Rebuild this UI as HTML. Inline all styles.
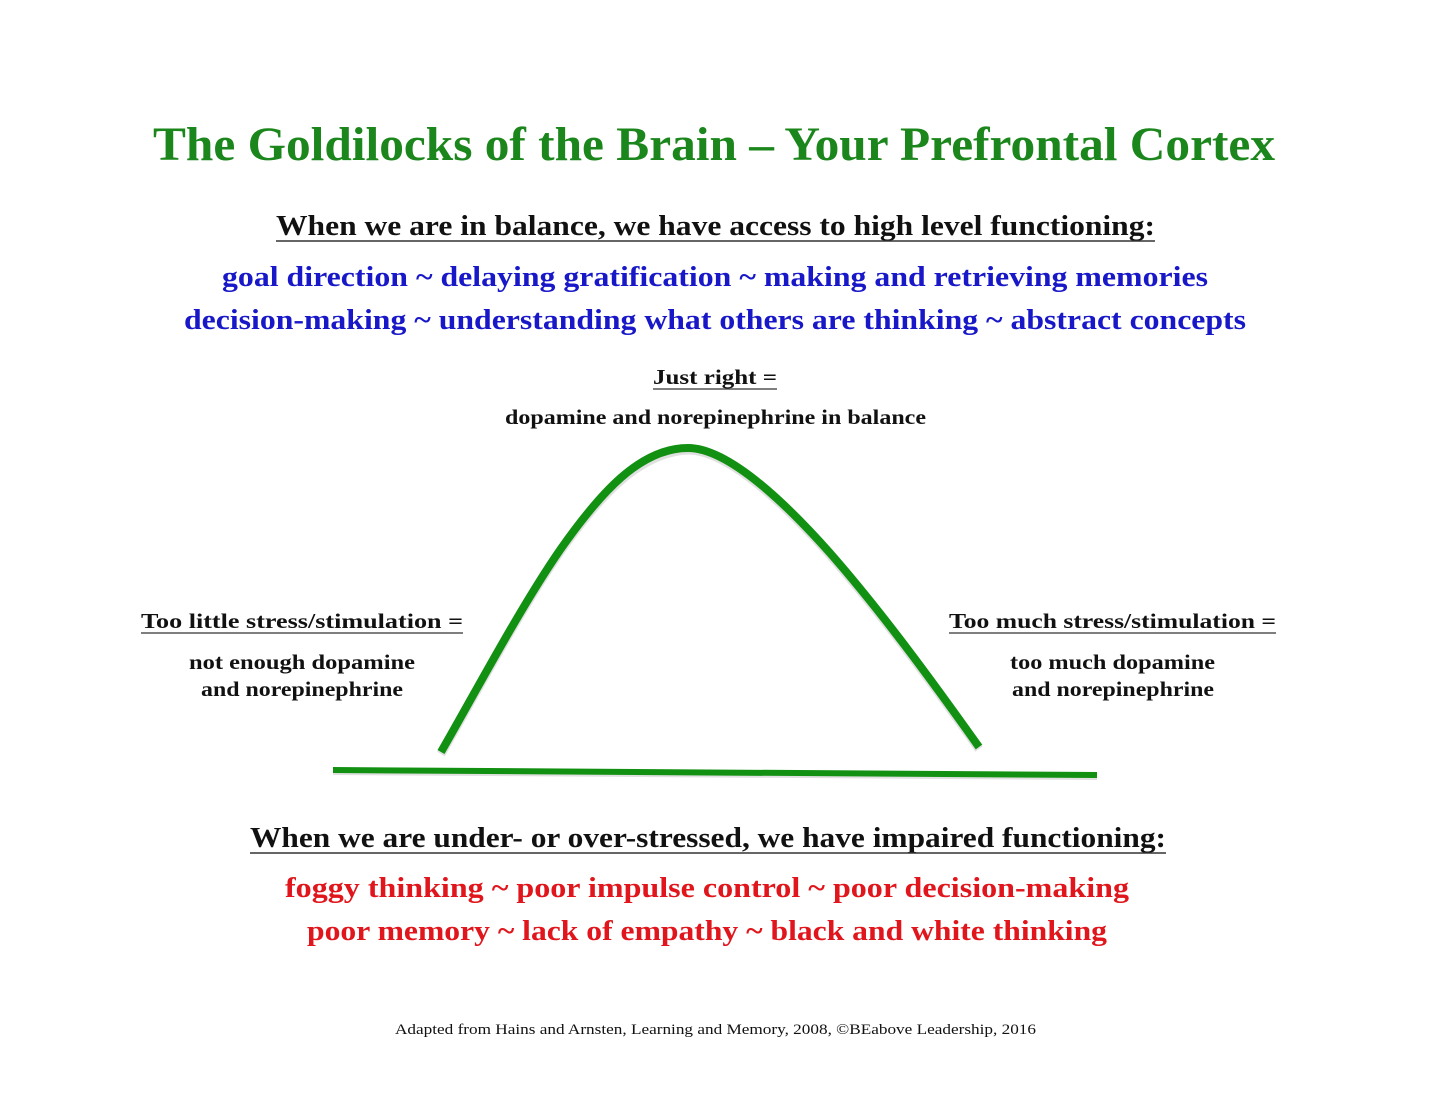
<!DOCTYPE html>
<html>
<head>
<meta charset="utf-8">
<style>
  html,body{margin:0;padding:0;background:#fff;}
  body{width:1432px;height:1106px;overflow:hidden;}
  svg{display:block;}
  text{font-family:"Liberation Serif",serif;font-weight:bold;}
</style>
</head>
<body>
<svg width="1432" height="1106" viewBox="0 0 1432 1106" xmlns="http://www.w3.org/2000/svg">
  <rect width="1432" height="1106" fill="#fff"/>

  <!-- Title -->
  <text x="153" y="160" font-size="48" fill="#1b861b" textLength="1122" lengthAdjust="spacingAndGlyphs">The Goldilocks of the Brain – Your Prefrontal Cortex</text>

  <!-- Top heading -->
  <text x="276" y="235" font-size="28" fill="#111" textLength="879" lengthAdjust="spacingAndGlyphs">When we are in balance, we have access to high level functioning:</text>
  <line x1="276" y1="241" x2="1155" y2="241" stroke="#333" stroke-width="1.6"/>

  <text x="222" y="286" font-size="29" fill="#1818c8" textLength="986" lengthAdjust="spacingAndGlyphs">goal direction ~ delaying gratification ~ making and retrieving memories</text>
  <text x="184" y="329" font-size="29" fill="#1818c8" textLength="1062" lengthAdjust="spacingAndGlyphs">decision-making ~ understanding what others are thinking ~ abstract concepts</text>

  <!-- Just right -->
  <text x="653" y="384" font-size="21" fill="#111" textLength="124" lengthAdjust="spacingAndGlyphs">Just right =</text>
  <line x1="653" y1="389" x2="777" y2="389" stroke="#333" stroke-width="1.3"/>
  <text x="505" y="424" font-size="21" fill="#111" textLength="421" lengthAdjust="spacingAndGlyphs">dopamine and norepinephrine in balance</text>

  <!-- Left labels -->
  <text x="141" y="628" font-size="21" fill="#111" textLength="322" lengthAdjust="spacingAndGlyphs">Too little stress/stimulation =</text>
  <line x1="141" y1="633" x2="463" y2="633" stroke="#333" stroke-width="1.3"/>
  <text x="189" y="669" font-size="21" fill="#111" textLength="226" lengthAdjust="spacingAndGlyphs">not enough dopamine</text>
  <text x="201" y="696" font-size="21" fill="#111" textLength="202" lengthAdjust="spacingAndGlyphs">and norepinephrine</text>

  <!-- Right labels -->
  <text x="949" y="628" font-size="21" fill="#111" textLength="327" lengthAdjust="spacingAndGlyphs">Too much stress/stimulation =</text>
  <line x1="949" y1="633" x2="1276" y2="633" stroke="#333" stroke-width="1.3"/>
  <text x="1010" y="669" font-size="21" fill="#111" textLength="205" lengthAdjust="spacingAndGlyphs">too much dopamine</text>
  <text x="1012" y="696" font-size="21" fill="#111" textLength="202" lengthAdjust="spacingAndGlyphs">and norepinephrine</text>

  <!-- Curve shadow -->
  <path d="M441,754 C475,695 520,610 560,552 C600,495 640,452 688,450 C730,450 790,510 830,555 C880,612 930,680 979,749"
        fill="none" stroke="#bbb" stroke-opacity="0.45" stroke-width="9"/>
  <!-- Curve -->
  <path d="M441,752 C475,693 520,608 560,550 C600,493 640,448 688,448 C730,448 790,508 830,553 C880,610 930,678 979,747"
        fill="none" stroke="#129012" stroke-width="8"/>

  <!-- Base line -->
  <line x1="333" y1="772" x2="1097" y2="777" stroke="#bbb" stroke-opacity="0.45" stroke-width="6"/>
  <line x1="333" y1="770" x2="1097" y2="775" stroke="#129012" stroke-width="6"/>

  <!-- Bottom heading -->
  <text x="250" y="847" font-size="28" fill="#111" textLength="916" lengthAdjust="spacingAndGlyphs">When we are under- or over-stressed, we have impaired functioning:</text>
  <line x1="250" y1="853" x2="1166" y2="853" stroke="#333" stroke-width="1.6"/>

  <text x="285" y="897" font-size="29" fill="#e0161c" textLength="844" lengthAdjust="spacingAndGlyphs">foggy thinking ~ poor impulse control ~ poor decision-making</text>
  <text x="307" y="940" font-size="29" fill="#e0161c" textLength="800" lengthAdjust="spacingAndGlyphs">poor memory ~ lack of empathy ~ black and white thinking</text>

  <!-- Footer -->
  <text x="395" y="1034" font-size="15" style="font-weight:normal" fill="#111" textLength="641" lengthAdjust="spacingAndGlyphs">Adapted from Hains and Arnsten, Learning and Memory, 2008, ©BEabove Leadership, 2016</text>
</svg>
</body>
</html>
